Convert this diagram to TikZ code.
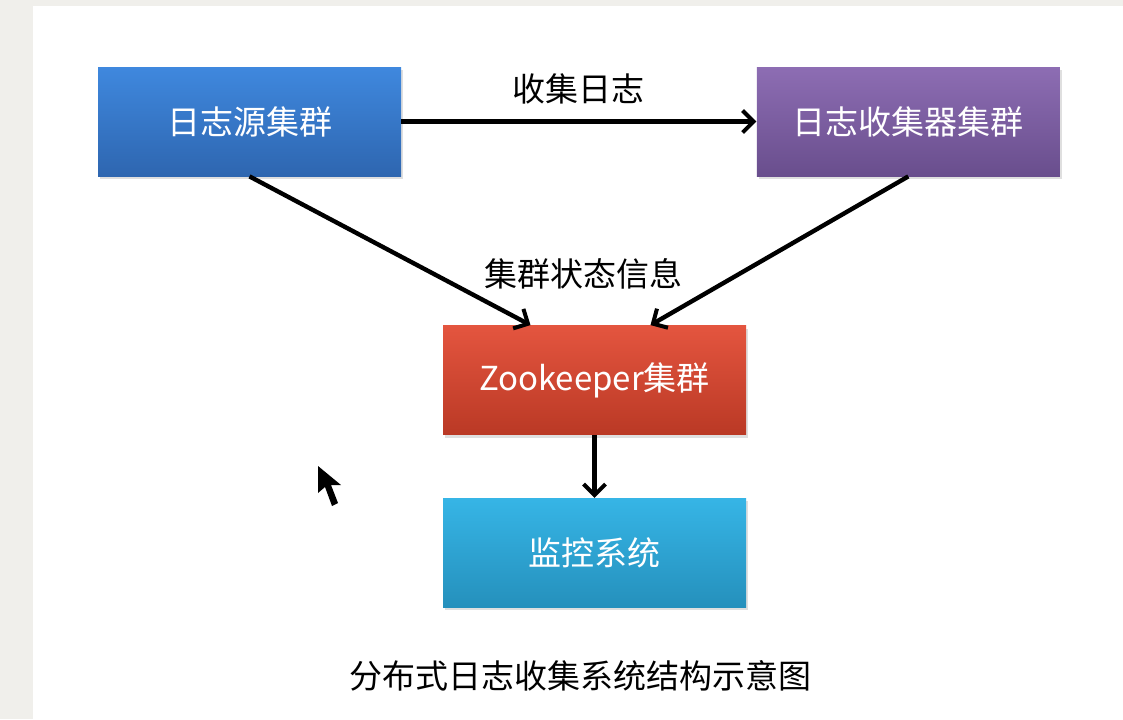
\documentclass[tikz,border=0pt]{standalone}
\usepackage{fontspec}
\newfontfamily\zhfont{Noto Sans CJK SC}
\usepackage{tikz}
\usepackage{xcolor}
\usetikzlibrary{positioning,shadows,arrows.meta}

\definecolor{pagegrey}{HTML}{F0EFEB}
\definecolor{srctop}{HTML}{3F88DE}
\definecolor{srcbot}{HTML}{2E66B0}
\definecolor{coltop}{HTML}{8D6DB3}
\definecolor{colbot}{HTML}{694E8D}
\definecolor{zktop}{HTML}{E4553F}
\definecolor{zkbot}{HTML}{BA3925}
\definecolor{montop}{HTML}{36B5E6}
\definecolor{monbot}{HTML}{2590BC}

\begin{document}
\begin{tikzpicture}[auto,x=0.5pt,y=-0.5pt,
    cluster/.style={rectangle, minimum width=151.5pt, minimum height=54.5pt,
        inner sep=0pt, text=white, font=\zhfont\fontsize{16.5}{20}\selectfont,
        drop shadow={opacity=0.25, shadow xshift=1pt, shadow yshift=-1.5pt}},
    tag/.style={font=\zhfont\fontsize{16.5}{20}\selectfont, text=black},
    flow/.style={-{Straight Barb[length=5.5pt,width=11pt,line width=2pt]},
        line width=2.2pt, black}]
    \useasboundingbox (0,0) rectangle (1123,719);
    \fill[pagegrey] (0,0) rectangle (1123,719);
    \fill[white] (33,6) rectangle (1123,719);

    \node[cluster, top color=srctop, bottom color=srcbot] (src) at (249.5,121.5) {日志源集群};
    \node[cluster, top color=coltop, bottom color=colbot] (coll) [right = 177.5pt of src] {日志收集器集群};
    \node[cluster, top color=zktop, bottom color=zkbot] (zk) at (594.5,380) {Zookeeper集群};
    \node[cluster, top color=montop, bottom color=monbot] (mon) [below = 31.5pt of zk] {监控系统};
    \node[tag] (state) at (583,274) {集群状态信息};
    \node[tag] (cap) at (580,676) {分布式日志收集系统结构示意图};

    \draw[flow] (src)
        edge node[tag, above=4pt] {收集日志} (coll);
    \draw[flow] (src.south) -- ([xshift=-32pt]zk.north);
    \draw[flow] (coll.south) -- ([xshift=28pt]zk.north);
    \draw[flow] (zk) -- (mon);

    % mouse pointer
    \fill[black] (318,466) -- (318,493) -- (325,487) -- (332,506) -- (338,503)
        -- (331,485) -- (341,485) -- cycle;
\end{tikzpicture}
\end{document}
